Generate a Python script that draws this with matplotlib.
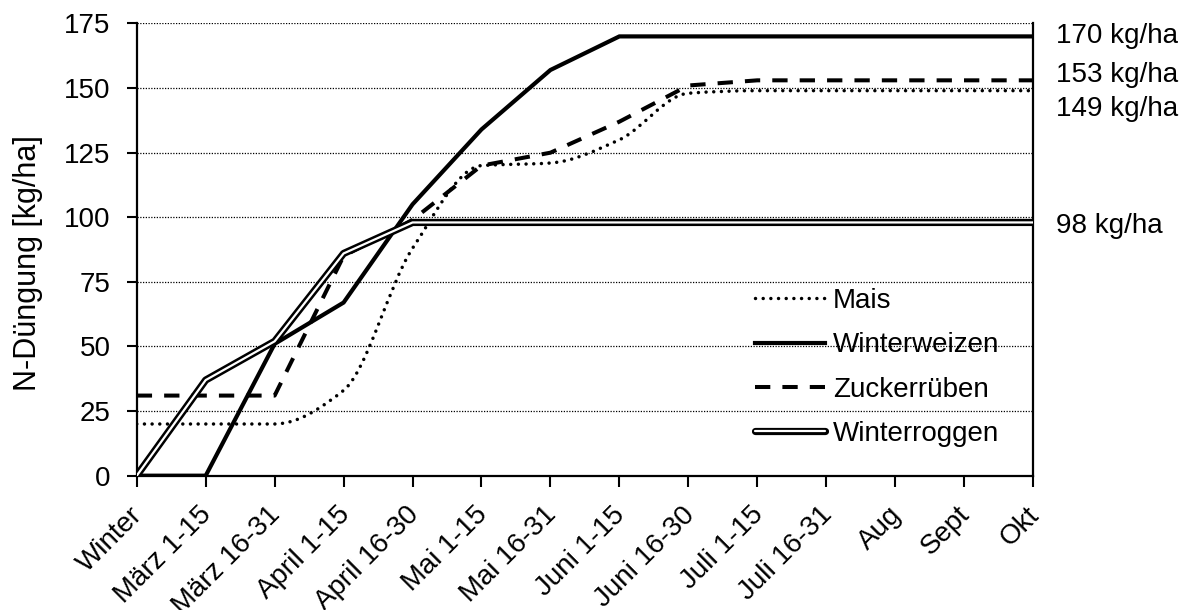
import numpy as np
import matplotlib
matplotlib.use('Agg')
import matplotlib.pyplot as plt
import matplotlib.patheffects as pe
from matplotlib.path import Path
from matplotlib.patches import PathPatch
from matplotlib.lines import Line2D
from matplotlib.transforms import ScaledTranslation

plt.rcParams['font.family'] = ['Liberation Sans', 'DejaVu Sans']
plt.rcParams['font.size'] = 20

perioden = ['Winter', 'März 1-15', 'März 16-31', 'April 1-15', 'April 16-30',
            'Mai 1-15', 'Mai 16-31', 'Juni 1-15', 'Juni 16-30', 'Juli 1-15',
            'Juli 16-31', 'Aug', 'Sept', 'Okt']
mais = [20, 20, 20, 33, 88, 120, 121, 130, 148, 149, 149, 149, 149, 149]
winterweizen = [0, 0, 51, 67, 105, 134, 157, 170, 170, 170, 170, 170, 170, 170]
zuckerrueben = [31, 31, 31, 85, 99, 120, 125, 137, 151, 153, 153, 153, 153, 153]
winterroggen = [0, 37, 52, 86, 98, 98, 98, 98, 98, 98, 98, 98, 98, 98]

# Endwerte rechts neben dem Diagramm (Wert, vertikaler Versatz der Beschriftung)
endlabels = [(winterweizen[-1], 0), (zuckerrueben[-1], 2), (mais[-1], -7), (winterroggen[-1], -1.5)]


def glatt(xs, ys):
    # monotone kubische Kurve als Bezier-Pfad (keine Überschwinger)
    xs = np.asarray(xs, float)
    ys = np.asarray(ys, float)
    d = np.diff(ys) / np.diff(xs)
    m = np.zeros(len(ys))
    m[0], m[-1] = d[0], d[-1]
    for i in range(1, len(ys) - 1):
        if d[i - 1] * d[i] > 0:
            m[i] = 2 / (1 / d[i - 1] + 1 / d[i])
    verts = [(xs[0], ys[0])]
    codes = [Path.MOVETO]
    for i in range(len(xs) - 1):
        h = xs[i + 1] - xs[i]
        verts += [(xs[i] + h / 3, ys[i] + m[i] * h / 3),
                  (xs[i + 1] - h / 3, ys[i + 1] - m[i + 1] * h / 3),
                  (xs[i + 1], ys[i + 1])]
        codes += [Path.CURVE4] * 3
    return Path(verts, codes)


fig = plt.figure(figsize=(11.84, 6.10), dpi=100)
ax = fig.add_axes([0.1155, 0.2202, 0.757, 0.7413])
x = np.arange(len(perioden))

mais_stil = dict(color='black', lw=2.5, linestyle=(0, (0.01, 2.2)))
ax.add_patch(PathPatch(glatt(x, mais), fill=False, edgecolor='black', lw=2.5,
                       linestyle=(0, (0.01, 2.2)), capstyle='round', zorder=3))
mais_handle = Line2D([], [], dash_capstyle='round', **mais_stil)

ax.plot(x, winterweizen, color='black', lw=3.0, solid_joinstyle='miter', zorder=3,
        label='Winterweizen')
ax.plot(x, zuckerrueben, color='black', lw=2.9, linestyle=(0, (3.8, 3.0)),
        dash_capstyle='butt', zorder=3, label='Zuckerrüben')
ax.plot(x, winterroggen, color='white', lw=1.6, zorder=3, label='Winterroggen',
        solid_capstyle='round',
        path_effects=[pe.Stroke(linewidth=5.2, foreground='black'), pe.Normal()])

ax.set_xlim(0, len(perioden) - 1)
ax.set_ylim(0, 175)
ax.set_yticks(np.arange(0, 176, 25))
ax.set_xticks(x)
ax.set_xticklabels(perioden)
ax.yaxis.grid(True, color='black', lw=0.9, linestyle=(0, (1, 1.2)))
ax.set_axisbelow(True)

for s in ['left', 'bottom', 'right']:
    ax.spines[s].set_linewidth(1.6)
ax.spines['top'].set_visible(False)
ax.tick_params(axis='both', direction='out', width=1.5, colors='black')
ax.tick_params(axis='x', length=8, pad=21)
ax.tick_params(axis='y', length=7, pad=12)
versatz_x = ScaledTranslation(5 / 72, 0, fig.dpi_scale_trans)
for lab in ax.get_xticklabels():
    lab.set_rotation(45)
    lab.set_ha('right')
    lab.set_va('baseline')
    lab.set_rotation_mode('anchor')
    lab.set_transform(lab.get_transform() + versatz_x)

ax.set_ylabel('N-Düngung [kg/ha]', fontsize=22)
ax.yaxis.set_label_coords(-0.1045, 0.47)

handles, labels = ax.get_legend_handles_labels()
ax.legend([mais_handle] + handles, ['Mais'] + labels, loc='upper left',
          bbox_to_anchor=(0.6377, 0.528), bbox_transform=fig.transFigure,
          frameon=False, borderpad=0, borderaxespad=0, handlelength=2.52,
          handletextpad=0.29, labelspacing=0.66)

trans = ax.get_yaxis_transform()
for wert, versatz in endlabels:
    ax.text(1.0257, wert + versatz, f'{wert} kg/ha', transform=trans,
            ha='left', va='center', clip_on=False)

fig.savefig('out.png', dpi=100)
